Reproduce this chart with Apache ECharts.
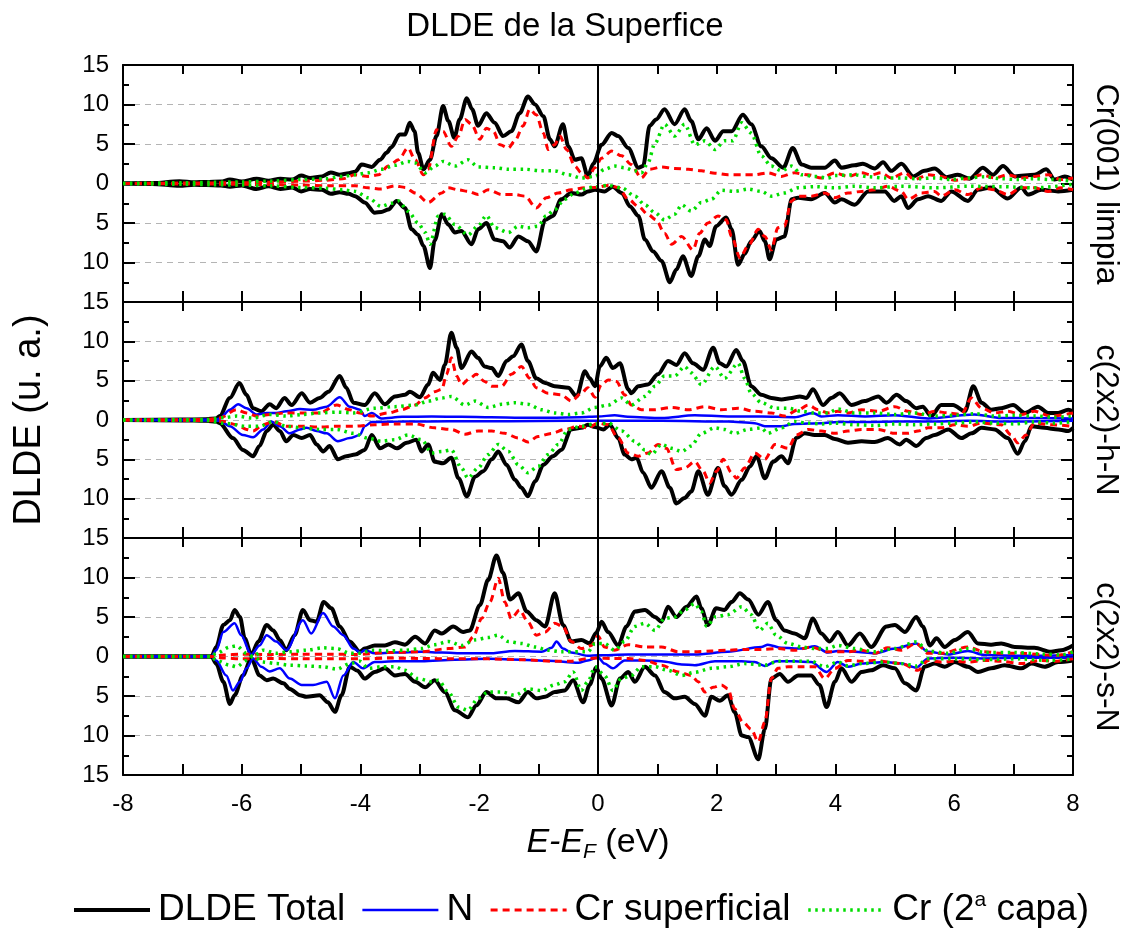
<!DOCTYPE html>
<html><head><meta charset="utf-8">
<script src="https://cdn.jsdelivr.net/npm/echarts@6/dist/echarts.min.js"></script>
<style>html,body{margin:0;padding:0;background:#fff}#c{width:1130px;height:932px}</style>
</head><body><div id="c"></div>
<script>
// ---------- DATA (E-EF in eV, DLDE in u.a.; spin-up positive, spin-down negative) ----------
const seriesNames = ['DLDE Total', 'N', 'Cr superficial', 'Cr (2ª capa)'];
const panelLabels = ['Cr(001) limpia', 'c(2x2)-h-N', 'c(2x2)-s-N'];
const xTicks = [-8, -6, -4, -2, 0, 2, 4, 6, 8];
const yTicks = [15, 10, 5, 0, 5, 10, 15];

// Panel 1: Cr(001) limpia
const p1TotUp = [[-8,0],[-7.5,0.05],[-7.05,0.3],[-6.8,0.15],[-6.6,0.2],[-6.35,0.25],[-6.2,0.5],[-6.0,0.25],[-5.75,0.6],[-5.55,0.35],[-5.35,0.6],[-5.15,0.5],[-5.0,1.0],[-4.85,0.7],[-4.65,0.9],[-4.5,1.4],[-4.35,1.1],[-4.2,1.3],[-4.09,1.5],[-3.98,2.4],[-3.81,2.1],[-3.67,3.0],[-3.56,3.9],[-3.48,4.6],[-3.34,6.2],[-3.25,6.2],[-3.17,7.7],[-3.09,6.6],[-3.03,3.9],[-2.94,1.8],[-2.83,3.0],[-2.72,6.0],[-2.61,9.8],[-2.52,7.9],[-2.42,5.8],[-2.33,8.1],[-2.21,10.8],[-2.12,9.4],[-2.02,7.3],[-1.88,8.9],[-1.74,7.7],[-1.6,6.0],[-1.46,6.6],[-1.32,8.9],[-1.18,11.0],[-1.06,10.0],[-0.92,8.5],[-0.81,5.6],[-0.73,4.7],[-0.59,7.5],[-0.5,4.7],[-0.39,3.0],[-0.28,3.2],[-0.17,0.9],[-0.08,2.5],[0.06,4.9],[0.23,6.4],[0.34,6.0],[0.51,4.5],[0.68,2.0],[0.76,2.2],[0.87,7.3],[0.98,8.1],[1.12,9.4],[1.29,7.5],[1.46,9.4],[1.57,7.9],[1.69,5.6],[1.83,7.0],[1.97,5.4],[2.11,6.6],[2.25,6.6],[2.44,8.7],[2.58,7.5],[2.75,4.7],[2.92,3.2],[3.12,2.0],[3.28,4.5],[3.43,2.4],[3.59,2.0],[3.82,2.0],[3.99,2.9],[4.1,2.0],[4.32,2.3],[4.46,2.5],[4.66,1.9],[4.8,2.7],[4.94,1.6],[5.11,2.5],[5.31,0.9],[5.5,1.6],[5.67,1.9],[5.87,0.8],[6.06,1.1],[6.26,0.6],[6.48,2.0],[6.65,1.1],[6.82,2.2],[7.02,0.9],[7.35,1.1],[7.55,1.8],[7.69,0.5],[7.86,0.9],[8,0.5]];
const p1TotDn = [[-8,0],[-7.5,-0.05],[-7.05,-0.3],[-6.8,-0.15],[-6.6,-0.2],[-6.35,-0.25],[-6.2,-0.4],[-6.0,-0.25],[-5.75,-0.7],[-5.55,-0.35],[-5.35,-0.7],[-5.15,-0.5],[-5.0,-1.0],[-4.85,-0.7],[-4.65,-0.8],[-4.5,-1.3],[-4.35,-1.1],[-4.2,-1.3],[-4.09,-1.6],[-3.93,-2.4],[-3.76,-3.7],[-3.65,-3.6],[-3.53,-3.3],[-3.39,-2.2],[-3.25,-3.1],[-3.14,-5.8],[-3.03,-6.5],[-2.94,-7.9],[-2.83,-10.7],[-2.75,-7.2],[-2.63,-3.9],[-2.52,-5.2],[-2.41,-6.2],[-2.3,-6.0],[-2.13,-7.7],[-2.02,-5.8],[-1.88,-5.0],[-1.74,-7.1],[-1.6,-7.3],[-1.49,-8.1],[-1.34,-6.7],[-1.18,-7.3],[-1.04,-8.6],[-0.89,-4.6],[-0.76,-4.1],[-0.62,-2.0],[-0.45,-1.2],[-0.28,-1.4],[-0.17,-1.0],[-0.05,-0.8],[0.11,-1.0],[0.25,-0.4],[0.4,-1.2],[0.54,-2.9],[0.68,-4.1],[0.79,-7.1],[0.93,-8.6],[1.07,-9.8],[1.21,-12.5],[1.32,-10.9],[1.43,-9.2],[1.57,-11.7],[1.69,-9.2],[1.8,-7.1],[1.88,-7.9],[1.99,-5.4],[2.16,-4.3],[2.25,-5.8],[2.36,-10.3],[2.47,-8.9],[2.58,-7.3],[2.72,-6.0],[2.81,-7.3],[2.89,-9.6],[3.0,-7.1],[3.14,-6.7],[3.26,-2.0],[3.37,-1.8],[3.59,-2.0],[3.82,-1.2],[3.99,-2.4],[4.1,-2.0],[4.32,-2.7],[4.55,-1.0],[4.83,-1.0],[4.99,-2.2],[5.11,-1.6],[5.22,-3.1],[5.39,-2.0],[5.56,-1.6],[5.78,-2.2],[5.95,-1.0],[6.23,-2.2],[6.4,-0.8],[6.62,-0.5],[6.9,-1.9],[7.13,-0.5],[7.24,-1.4],[7.47,-0.8],[7.75,-1.0],[8,-0.8]];
const p1CrUp = [[-8,0],[-7,0.05],[-6,0.1],[-5.5,0.15],[-5,0.3],[-4.6,0.4],[-4.3,0.6],[-4.09,1.1],[-3.87,0.9],[-3.7,1.1],[-3.53,2.2],[-3.36,3.0],[-3.2,4.5],[-3.08,3.0],[-2.94,1.1],[-2.86,1.8],[-2.72,6.8],[-2.61,6.6],[-2.47,4.7],[-2.35,6.0],[-2.24,8.1],[-2.13,7.5],[-1.99,5.6],[-1.88,7.0],[-1.76,6.6],[-1.65,4.9],[-1.51,4.5],[-1.4,5.4],[-1.26,7.3],[-1.15,9.4],[-1.04,8.7],[-0.92,6.4],[-0.84,4.3],[-0.73,4.9],[-0.64,6.0],[-0.53,4.3],[-0.39,2.2],[-0.28,1.35],[-0.17,0.7],[-0.05,2.0],[0.06,3.2],[0.23,4.1],[0.4,3.5],[0.56,2.4],[0.73,0.7],[0.87,1.8],[1.07,2.1],[1.29,1.9],[1.52,1.8],[1.74,1.6],[1.97,1.3],[2.19,1.1],[2.42,1.1],[2.64,1.1],[2.86,1.35],[3.09,0.9],[3.31,1.35],[3.54,1.1],[3.76,0.7],[3.99,1.35],[4.21,0.9],[4.44,1.35],[4.6,1.1],[4.77,1.35],[4.94,0.7],[5.17,1.35],[5.33,0.5],[5.56,1.1],[5.78,0.9],[6.01,0.4],[6.23,0.6],[6.46,1.1],[6.68,0.7],[6.9,1.1],[7.13,0.7],[7.35,0.9],[7.58,1.1],[7.8,0.5],[8,0.7]];
const p1CrDn = [[-8,0],[-7,-0.05],[-6,-0.1],[-5,-0.2],[-4.5,-0.3],[-4.09,-0.3],[-3.87,-0.55],[-3.65,-0.7],[-3.42,-0.3],[-3.25,-0.5],[-3.08,-1.2],[-2.86,-2.4],[-2.63,-1.2],[-2.52,-0.55],[-2.35,-0.8],[-2.19,-1.0],[-2.02,-1.4],[-1.85,-0.8],[-1.62,-1.4],[-1.4,-1.4],[-1.23,-1.6],[-1.04,-3.1],[-0.87,-1.8],[-0.67,-1.2],[-0.45,-0.8],[-0.22,-0.55],[-0.05,-0.5],[0.17,-0.25],[0.34,-0.5],[0.51,-2.0],[0.68,-2.9],[0.84,-3.9],[0.98,-4.6],[1.12,-6.3],[1.24,-7.7],[1.41,-6.7],[1.6,-8.4],[1.71,-6.3],[1.85,-5.0],[2.02,-4.1],[2.16,-4.6],[2.25,-6.7],[2.39,-9.4],[2.53,-7.9],[2.7,-5.8],[2.81,-6.7],[2.92,-8.4],[3.03,-5.6],[3.14,-5.4],[3.26,-2.2],[3.37,-1.6],[3.59,-1.6],[3.82,-1.2],[3.99,-1.8],[4.21,-1.2],[4.44,-1.0],[4.66,-0.8],[4.88,-0.35],[5.11,-1.0],[5.22,-2.0],[5.45,-1.2],[5.67,-1.0],[5.78,-1.6],[6.01,-0.8],[6.23,-1.4],[6.46,-0.55],[6.68,-0.8],[6.9,-1.4],[7.13,-0.55],[7.35,-0.55],[7.58,-1.0],[7.8,-0.55],[8,-0.8]];
const p1Cr2Up = [[-8,0],[-7,0.1],[-6.5,0.15],[-6,0.2],[-5.5,0.3],[-5,0.5],[-4.6,0.6],[-4.3,0.9],[-4.09,1.1],[-3.87,1.35],[-3.65,1.8],[-3.42,2.3],[-3.2,2.8],[-3.08,2.6],[-2.91,1.35],[-2.75,2.2],[-2.61,2.8],[-2.41,2.2],[-2.19,3.0],[-2.02,2.1],[-1.74,2.0],[-1.51,1.8],[-1.23,1.8],[-0.95,1.6],[-0.73,1.6],[-0.5,1.1],[-0.28,0.7],[-0.05,0.9],[0.11,1.8],[0.28,2.2],[0.45,2.0],[0.62,1.6],[0.73,1.35],[0.84,2.6],[0.96,5.1],[1.12,7.5],[1.29,6.0],[1.46,7.5],[1.63,4.9],[1.8,5.4],[1.97,4.3],[2.13,5.4],[2.27,5.4],[2.42,7.7],[2.58,6.4],[2.75,3.5],[2.92,2.2],[3.09,1.6],[3.26,2.2],[3.43,1.1],[3.65,0.9],[3.87,0.7],[3.99,1.0],[4.32,1.1],[4.55,0.85],[4.83,0.7],[5.11,0.7],[5.39,0.6],[5.67,0.7],[5.95,0.5],[6.23,0.7],[6.51,0.85],[6.79,0.6],[7.07,0.5],[7.35,0.6],[7.63,0.5],[8,0.3]];
const p1Cr2Dn = [[-8,0],[-7,-0.1],[-6.5,-0.15],[-6,-0.2],[-5.5,-0.3],[-5,-0.5],[-4.6,-0.6],[-4.3,-0.8],[-4.09,-1.0],[-3.87,-1.8],[-3.65,-2.9],[-3.48,-2.5],[-3.36,-2.2],[-3.2,-3.5],[-3.03,-5.0],[-2.91,-6.2],[-2.83,-7.7],[-2.69,-4.1],[-2.58,-3.9],[-2.41,-5.2],[-2.19,-6.5],[-2.02,-5.4],[-1.88,-4.05],[-1.74,-5.6],[-1.51,-6.2],[-1.34,-5.4],[-1.18,-5.6],[-1.01,-5.4],[-0.87,-4.1],[-0.73,-3.3],[-0.56,-2.0],[-0.39,-1.2],[-0.17,-0.55],[-0.05,-0.4],[0.17,-0.25],[0.4,-0.55],[0.62,-1.6],[0.79,-2.7],[0.96,-3.7],[1.12,-4.6],[1.29,-3.9],[1.41,-2.7],[1.57,-3.5],[1.74,-2.4],[1.91,-2.0],[2.08,-0.85],[2.3,-1.0],[2.53,-0.7],[2.75,-1.0],[2.92,-1.6],[3.14,-1.2],[3.37,-0.55],[3.65,-0.4],[3.99,-0.55],[4.32,-0.35],[4.66,-0.55],[5.11,-0.35],[5.67,-0.55],[6.23,-0.35],[6.79,-0.4],[7.35,-0.55],[8,-0.1]];

// Panel 2: c(2x2)-h-N
const p2TotUp = [[-8,0],[-7,0.05],[-6.6,0.1],[-6.43,0.2],[-6.37,0.5],[-6.2,2.8],[-6.04,4.7],[-5.92,3.2],[-5.81,1.5],[-5.67,1.1],[-5.53,2.0],[-5.42,1.5],[-5.28,2.8],[-5.16,1.9],[-4.99,3.4],[-4.85,2.2],[-4.69,2.8],[-4.54,3.6],[-4.35,5.6],[-4.24,4.1],[-4.12,2.2],[-3.93,1.9],[-3.76,3.4],[-3.59,2.0],[-3.42,3.0],[-3.25,3.2],[-3.17,3.6],[-3.0,2.9],[-2.86,4.5],[-2.78,6.0],[-2.66,5.1],[-2.58,7.0],[-2.47,11.1],[-2.38,9.2],[-2.3,6.6],[-2.13,8.7],[-2.02,7.9],[-1.91,6.8],[-1.79,6.6],[-1.68,5.6],[-1.54,7.5],[-1.43,8.1],[-1.29,9.6],[-1.18,7.5],[-1.04,5.3],[-0.89,4.7],[-0.73,4.3],[-0.5,4.1],[-0.36,3.0],[-0.22,6.2],[-0.14,5.3],[-0.05,4.3],[0.03,6.8],[0.14,7.9],[0.25,6.6],[0.37,7.2],[0.51,3.9],[0.56,3.4],[0.68,4.3],[0.84,4.5],[1.01,5.8],[1.18,7.5],[1.32,7.0],[1.46,8.5],[1.6,7.2],[1.77,6.4],[1.94,9.2],[2.05,7.2],[2.16,6.8],[2.33,8.9],[2.44,7.5],[2.58,4.3],[2.75,3.2],[2.92,2.8],[3.09,2.6],[3.26,2.8],[3.4,3.0],[3.51,2.8],[3.62,3.9],[3.79,1.9],[3.93,2.8],[4.07,3.4],[4.27,1.9],[4.49,2.4],[4.72,3.0],[4.86,2.2],[5.03,3.2],[5.19,2.4],[5.36,1.5],[5.47,1.7],[5.61,0.5],[5.78,1.9],[5.98,1.9],[6.18,1.1],[6.32,4.3],[6.46,2.2],[6.62,1.3],[6.79,1.5],[6.99,1.9],[7.19,0.9],[7.41,1.7],[7.58,0.9],[7.75,0.9],[7.92,1.3],[8,1.1]];
const p2TotDn = [[-8,0],[-7,-0.05],[-6.6,-0.1],[-6.43,-0.2],[-6.37,-0.4],[-6.15,-2.3],[-5.98,-3.8],[-5.81,-4.6],[-5.7,-3.3],[-5.58,-1.4],[-5.47,-0.6],[-5.36,-1.4],[-5.25,-2.7],[-5.13,-1.9],[-4.99,-2.3],[-4.85,-1.9],[-4.74,-3.1],[-4.63,-4.0],[-4.52,-3.3],[-4.38,-5.0],[-4.24,-4.6],[-4.09,-4.4],[-3.93,-3.8],[-3.81,-1.9],[-3.67,-3.6],[-3.53,-3.1],[-3.39,-3.6],[-3.22,-2.9],[-3.06,-2.5],[-2.97,-4.0],[-2.86,-3.1],[-2.75,-5.3],[-2.61,-5.5],[-2.47,-4.8],[-2.35,-7.4],[-2.21,-9.7],[-2.07,-7.2],[-1.93,-6.5],[-1.79,-5.0],[-1.68,-4.0],[-1.54,-5.7],[-1.4,-7.6],[-1.29,-8.6],[-1.18,-9.7],[-1.06,-7.8],[-0.92,-5.7],[-0.76,-4.6],[-0.62,-3.8],[-0.45,-1.2],[-0.28,-1.0],[-0.17,-0.6],[-0.05,-0.9],[0.09,-1.2],[0.2,-0.6],[0.34,-2.3],[0.45,-4.4],[0.56,-5.0],[0.65,-4.8],[0.76,-6.7],[0.9,-8.6],[1.07,-6.5],[1.21,-8.6],[1.32,-10.6],[1.46,-9.9],[1.57,-9.1],[1.69,-6.5],[1.85,-9.5],[2.02,-6.1],[2.13,-8.4],[2.25,-9.5],[2.42,-7.6],[2.56,-5.9],[2.67,-4.6],[2.81,-7.4],[2.95,-5.3],[3.09,-4.6],[3.2,-5.5],[3.34,-2.3],[3.48,-1.7],[3.65,-1.9],[3.82,-1.9],[3.99,-2.4],[4.21,-2.9],[4.44,-2.7],[4.66,-2.8],[4.88,-2.3],[5.08,-3.1],[5.19,-2.5],[5.36,-3.3],[5.53,-2.3],[5.67,-1.9],[5.9,-1.2],[6.12,-2.3],[6.29,-1.7],[6.46,-1.0],[6.68,-1.2],[6.9,-2.3],[7.07,-4.3],[7.19,-2.7],[7.3,-0.8],[7.52,-1.0],[7.75,-1.2],[7.92,-1.4],[8,-1.0]];
const p2NUp = [[-8,0],[-6.6,0.05],[-6.43,0.1],[-6.37,0.2],[-6.2,1.3],[-6.06,2.0],[-5.92,1.5],[-5.75,0.7],[-5.58,0.9],[-5.42,0.9],[-5.25,1.1],[-5.02,1.4],[-4.8,1.3],[-4.57,1.7],[-4.35,2.9],[-4.18,1.7],[-4.01,1.3],[-3.93,0.5],[-3.81,0.9],[-3.65,0.2],[-3.3,0.4],[-2.8,0.45],[-2.3,0.4],[-1.8,0.35],[-1.3,0.3],[-0.8,0.3],[-0.3,0.35],[0.0,0.45],[0.28,0.6],[0.5,0.4],[1.07,0.25],[1.63,0.6],[2.19,0.45],[2.75,0.45],[3.31,0.35],[3.62,0.9],[3.76,0.45],[4.04,0.6],[4.5,0.45],[5.0,0.6],[5.56,0.2],[6.34,0.7],[6.79,0.25],[7.35,0.25],[8,0.2]];
const p2NDn = [[-8,0],[-6.6,-0.05],[-6.37,-0.1],[-6.2,-0.8],[-5.98,-1.9],[-5.81,-2.2],[-5.64,-1.2],[-5.5,-0.2],[-5.36,-0.8],[-5.19,-1.7],[-5.02,-1.2],[-4.91,-1.0],[-4.74,-1.4],[-4.57,-1.7],[-4.38,-2.7],[-4.18,-2.3],[-4.01,-1.9],[-3.93,-0.8],[-3.81,-0.25],[-3.3,-0.2],[-2.5,-0.15],[-1.5,-0.15],[-0.5,-0.1],[0.5,-0.1],[1.07,-0.1],[2.19,-0.2],[2.64,-0.4],[2.81,-0.8],[3.09,-0.8],[3.31,-0.5],[3.76,-0.4],[4.04,-0.25],[4.5,-0.25],[5.1,-0.2],[5.56,-0.2],[6.23,-0.1],[6.9,-0.2],[8,-0.1]];
const p2CrUp = [[-8,0],[-6.6,0.05],[-6.37,0.25],[-6.09,1.3],[-5.92,0.9],[-5.75,0.5],[-5.53,0.7],[-5.25,0.9],[-4.97,0.9],[-4.69,0.9],[-4.4,1.9],[-4.18,1.3],[-4.01,0.9],[-3.81,0.5],[-3.53,0.9],[-3.31,1.3],[-3.08,1.9],[-2.92,2.8],[-2.75,3.6],[-2.63,3.9],[-2.55,5.8],[-2.47,7.9],[-2.38,5.6],[-2.3,4.5],[-2.16,5.3],[-2.05,5.8],[-1.91,4.9],[-1.79,4.3],[-1.62,4.3],[-1.46,5.8],[-1.29,6.8],[-1.15,5.3],[-1.04,4.1],[-0.84,3.4],[-0.62,3.2],[-0.45,2.4],[-0.28,3.4],[-0.17,4.1],[-0.05,2.9],[0.06,4.5],[0.17,5.1],[0.31,4.9],[0.45,3.2],[0.56,1.9],[0.73,1.3],[0.96,1.3],[1.24,1.6],[1.52,1.3],[1.8,1.7],[2.08,1.3],[2.36,1.5],[2.64,1.1],[2.92,0.9],[3.14,0.5],[3.37,1.3],[3.54,1.9],[3.71,1.3],[3.87,0.9],[4.04,1.1],[4.21,0.9],[4.44,1.3],[4.72,1.1],[5.0,1.7],[5.22,1.1],[5.45,0.7],[5.67,1.1],[5.9,0.9],[6.12,0.7],[6.29,2.8],[6.46,1.5],[6.68,0.9],[6.9,1.1],[7.13,0.7],[7.35,1.1],[7.63,0.5],[8,0.9]];
const p2CrDn = [[-8,0],[-6.6,-0.05],[-6.3,-0.2],[-6.09,-0.6],[-5.92,-1.2],[-5.81,-1.4],[-5.64,-0.6],[-5.47,-0.2],[-5.25,-0.8],[-4.97,-0.8],[-4.69,-0.9],[-4.4,-0.8],[-4.12,-0.8],[-3.76,-0.6],[-3.42,-0.5],[-3.08,-0.5],[-2.75,-1.0],[-2.47,-1.2],[-2.24,-1.8],[-2.02,-1.4],[-1.79,-1.4],[-1.57,-1.7],[-1.34,-2.3],[-1.18,-2.8],[-1.01,-2.1],[-0.78,-1.7],[-0.56,-1.2],[-0.33,-0.8],[-0.17,-1.0],[0.0,-0.4],[0.17,-0.6],[0.34,-2.3],[0.51,-4.2],[0.68,-4.6],[0.84,-4.2],[1.01,-3.1],[1.15,-3.6],[1.32,-6.3],[1.46,-6.1],[1.63,-5.3],[1.77,-6.5],[1.88,-8.0],[2.0,-6.5],[2.11,-5.0],[2.25,-6.7],[2.33,-7.4],[2.47,-6.1],[2.64,-4.2],[2.81,-5.0],[2.98,-3.1],[3.2,-3.6],[3.34,-1.9],[3.54,-1.2],[3.76,-1.4],[3.99,-1.7],[4.21,-1.4],[4.44,-1.2],[4.72,-1.2],[5.0,-1.7],[5.22,-1.7],[5.39,-1.4],[5.56,-1.0],[5.78,-1.0],[6.01,-0.6],[6.23,-0.8],[6.46,-0.4],[6.79,-0.6],[6.96,-1.9],[7.07,-2.9],[7.21,-1.9],[7.35,-0.4],[7.63,-0.6],[8,-0.8]];
const p2Cr2Up = [[-8,0],[-6.6,0.05],[-6.3,0.3],[-6.09,0.5],[-5.81,0.25],[-5.53,0.7],[-5.25,0.5],[-4.97,0.7],[-4.69,0.9],[-4.4,1.0],[-4.12,0.9],[-3.76,1.5],[-3.42,1.7],[-3.08,1.9],[-2.86,2.4],[-2.63,2.8],[-2.47,3.0],[-2.24,1.9],[-2.07,2.4],[-1.85,1.6],[-1.62,2.0],[-1.4,2.2],[-1.18,2.0],[-0.95,1.3],[-0.73,0.9],[-0.5,0.7],[-0.28,0.9],[-0.05,1.6],[0.17,1.9],[0.4,2.8],[0.56,1.9],[0.79,3.0],[0.96,4.3],[1.12,5.6],[1.29,5.6],[1.46,6.8],[1.57,6.0],[1.74,4.5],[1.97,6.8],[2.13,5.3],[2.36,7.2],[2.47,5.3],[2.58,3.4],[2.75,2.2],[2.98,1.5],[3.2,1.5],[3.43,1.1],[3.65,0.9],[3.87,0.9],[4.04,1.4],[4.32,0.9],[4.66,0.9],[5.0,0.7],[5.33,0.9],[5.67,0.5],[6.01,0.6],[6.34,0.8],[6.68,0.5],[7.02,0.6],[7.35,0.5],[7.69,0.35],[8,0.5]];
const p2Cr2Dn = [[-8,0],[-6.6,-0.05],[-6.3,-0.4],[-5.92,-0.8],[-5.7,-0.8],[-5.47,-0.2],[-5.25,-0.8],[-4.97,-1.0],[-4.69,-1.2],[-4.4,-1.2],[-4.12,-1.7],[-3.87,-2.3],[-3.65,-2.7],[-3.42,-2.5],[-3.2,-1.9],[-2.97,-2.5],[-2.8,-4.2],[-2.63,-4.0],[-2.47,-3.8],[-2.3,-6.1],[-2.19,-7.4],[-2.02,-6.1],[-1.85,-4.4],[-1.68,-3.1],[-1.51,-4.0],[-1.34,-5.7],[-1.18,-6.7],[-1.01,-5.9],[-0.84,-4.4],[-0.67,-3.1],[-0.5,-1.2],[-0.28,-0.8],[-0.05,-0.5],[0.17,-0.4],[0.4,-1.4],[0.62,-2.7],[0.79,-3.8],[0.9,-4.4],[1.07,-3.1],[1.24,-3.6],[1.41,-4.0],[1.57,-3.3],[1.74,-1.7],[1.97,-1.0],[2.13,-1.2],[2.3,-1.7],[2.53,-1.2],[2.75,-1.0],[2.86,-1.7],[3.09,-1.0],[3.31,-0.2],[3.54,-0.4],[3.76,-0.5],[3.99,-0.4],[4.32,-0.6],[4.66,-0.7],[5.0,-0.5],[5.33,-0.6],[5.67,-0.5],[6.01,-0.4],[6.34,-0.25],[6.68,-0.4],[7.02,-0.5],[7.35,-0.25],[7.69,-0.4],[8,-0.2]];

// Panel 3: c(2x2)-s-N
const p3TotUp = [[-8,0],[-6.51,0],[-6.43,1.2],[-6.31,4.0],[-6.2,4.6],[-6.12,5.9],[-6.03,5.0],[-5.95,2.3],[-5.84,0.2],[-5.72,1.9],[-5.58,4.0],[-5.47,3.3],[-5.36,2.1],[-5.25,0.8],[-5.11,2.7],[-4.97,5.9],[-4.85,4.6],[-4.74,4.4],[-4.62,6.9],[-4.49,6.1],[-4.35,3.8],[-4.18,1.9],[-4.01,0.6],[-3.93,1.0],[-3.76,1.4],[-3.59,1.4],[-3.42,1.8],[-3.25,1.5],[-3.08,2.5],[-2.91,1.65],[-2.75,3.3],[-2.63,2.9],[-2.44,3.8],[-2.27,3.1],[-2.16,3.3],[-1.99,6.5],[-1.85,9.7],[-1.71,12.8],[-1.6,10.6],[-1.48,7.2],[-1.34,8.0],[-1.2,5.7],[-1.04,4.6],[-0.89,3.8],[-0.73,8.0],[-0.59,4.0],[-0.45,1.9],[-0.28,2.1],[-0.14,1.65],[-0.03,3.0],[0.06,4.4],[0.17,3.1],[0.34,1.4],[0.48,3.8],[0.62,5.7],[0.79,5.9],[0.96,5.0],[1.07,4.4],[1.18,6.3],[1.32,5.0],[1.49,6.3],[1.66,7.6],[1.74,6.1],[1.85,4.0],[1.99,6.1],[2.13,5.9],[2.25,6.9],[2.39,8.0],[2.53,7.2],[2.7,5.3],[2.86,6.9],[3.0,4.6],[3.14,3.3],[3.31,2.9],[3.48,2.3],[3.62,4.8],[3.76,2.9],[3.9,1.9],[4.04,3.1],[4.21,1.4],[4.41,2.9],[4.6,1.2],[4.86,3.8],[5.0,4.0],[5.17,3.1],[5.36,5.0],[5.47,3.8],[5.59,1.4],[5.7,2.3],[5.84,1.2],[6.01,2.1],[6.23,3.1],[6.4,1.65],[6.62,1.5],[6.79,1.65],[7.02,1.2],[7.35,1.1],[7.63,0.6],[7.8,0.8],[8,1.4]];
const p3TotDn = [[-8,0],[-6.51,0],[-6.43,-0.9],[-6.31,-3.2],[-6.2,-6.0],[-6.12,-4.9],[-5.98,-2.4],[-5.84,-0.25],[-5.7,-2.4],[-5.58,-3.0],[-5.47,-2.8],[-5.3,-3.4],[-5.19,-4.1],[-5.02,-4.9],[-4.91,-5.1],[-4.69,-4.9],[-4.55,-5.8],[-4.43,-7.0],[-4.32,-4.9],[-4.18,-1.3],[-4.05,-1.8],[-3.93,-2.8],[-3.76,-1.95],[-3.59,-1.5],[-3.42,-2.4],[-3.25,-2.2],[-3.08,-3.2],[-2.91,-3.9],[-2.75,-3.0],[-2.58,-4.5],[-2.41,-6.8],[-2.19,-7.7],[-2.05,-6.2],[-1.88,-4.5],[-1.71,-5.3],[-1.54,-5.3],[-1.34,-5.8],[-1.18,-4.5],[-1.04,-5.3],[-0.89,-5.1],[-0.73,-4.5],[-0.56,-4.3],[-0.42,-3.0],[-0.25,-5.8],[-0.14,-3.6],[-0.03,-1.4],[0.06,-2.8],[0.23,-6.2],[0.37,-2.8],[0.51,-1.95],[0.62,-3.2],[0.79,-1.3],[0.96,-2.4],[1.12,-4.5],[1.29,-5.3],[1.46,-5.1],[1.63,-6.0],[1.8,-7.5],[1.91,-5.1],[2.05,-5.6],[2.19,-4.9],[2.3,-7.0],[2.42,-10.0],[2.53,-10.2],[2.7,-13.0],[2.81,-9.2],[2.92,-2.8],[3.06,-2.2],[3.2,-3.2],[3.37,-2.4],[3.59,-2.4],[3.73,-3.6],[3.85,-6.4],[3.99,-3.2],[4.1,-1.5],[4.27,-3.2],[4.44,-1.95],[4.6,-1.75],[4.8,-1.1],[5.0,-1.5],[5.17,-3.4],[5.36,-4.3],[5.5,-1.3],[5.67,-0.9],[5.84,-1.3],[6.01,-0.7],[6.23,-1.3],[6.4,-1.95],[6.62,-1.5],[6.85,-1.1],[7.13,-1.5],[7.3,-0.9],[7.52,-1.3],[7.75,-0.7],[8,-0.5]];
const p3NUp = [[-8,0],[-6.51,0],[-6.43,0.8],[-6.31,3.1],[-6.12,4.2],[-6.01,2.7],[-5.84,0.2],[-5.7,1.4],[-5.58,2.7],[-5.42,1.9],[-5.25,0.8],[-4.97,4.6],[-4.83,2.9],[-4.63,5.5],[-4.46,3.8],[-4.29,2.7],[-4.12,1.0],[-4.0,0.5],[-3.93,0.8],[-3.76,0.4],[-3.42,0.5],[-2.97,0.6],[-2.63,0.5],[-2.24,0.4],[-1.85,0.4],[-1.4,0.7],[-0.95,0.6],[-0.78,1.1],[-0.7,1.9],[-0.59,1.0],[-0.45,0.5],[-0.17,0.1],[0.0,0.15],[0.51,0.25],[1.07,0.25],[1.63,0.25],[2.19,0.6],[2.75,1.2],[2.86,1.5],[3.09,1.1],[3.43,1.0],[3.65,1.3],[3.87,0.5],[4.04,0.7],[4.32,0.6],[4.66,0.4],[5.0,1.0],[5.36,1.65],[5.56,0.6],[5.9,0.25],[6.23,0.7],[6.51,0.2],[7.0,0.1],[7.5,0.1],[8,0.2]];
const p3NDn = [[-8,0],[-6.51,0],[-6.43,-0.5],[-6.26,-2.4],[-6.15,-4.3],[-6.03,-3.2],[-5.92,-1.5],[-5.81,-0.25],[-5.67,-1.3],[-5.53,-1.9],[-5.36,-1.5],[-5.19,-2.8],[-4.99,-3.6],[-4.8,-3.6],[-4.57,-3.2],[-4.43,-5.3],[-4.29,-2.4],[-4.12,-0.7],[-3.96,-1.5],[-3.76,-0.7],[-3.42,-0.6],[-2.97,-0.6],[-2.41,-0.4],[-1.85,-0.3],[-1.29,-0.4],[-0.84,-0.55],[-0.33,-0.8],[-0.17,-0.5],[0.0,-0.1],[0.11,-0.9],[0.25,-1.5],[0.45,-0.5],[0.79,-0.5],[1.07,-0.6],[1.41,-1.0],[1.63,-1.1],[1.97,-0.6],[2.42,-0.6],[2.64,-0.7],[2.81,-1.2],[3.0,-0.6],[3.31,-0.6],[3.59,-0.7],[3.85,-1.95],[4.04,-0.7],[4.21,-1.3],[4.44,-0.9],[4.83,-0.7],[5.11,-0.9],[5.36,-1.4],[5.56,-0.25],[6.0,-0.15],[6.5,-0.25],[7.1,-0.15],[8,-0.15]];
const p3CrUp = [[-8,0],[-6.51,0],[-6.3,0.2],[-6.0,0.3],[-5.5,0.25],[-5.0,0.3],[-4.5,0.3],[-4.09,0.25],[-3.53,0.5],[-2.97,0.6],[-2.52,1.0],[-2.24,1.2],[-2.1,2.5],[-1.96,4.8],[-1.82,6.9],[-1.68,9.9],[-1.57,6.9],[-1.46,4.8],[-1.32,5.9],[-1.18,4.4],[-1.04,2.7],[-0.89,3.1],[-0.73,4.2],[-0.59,3.8],[-0.45,1.9],[-0.28,1.0],[-0.11,1.4],[0.0,2.6],[0.11,1.2],[0.28,0.8],[0.51,1.5],[0.79,1.2],[1.07,1.2],[1.35,0.6],[1.63,0.6],[1.91,0.7],[2.19,0.8],[2.47,0.9],[2.75,0.9],[3.03,1.0],[3.31,0.8],[3.59,1.2],[3.87,0.6],[4.2,0.6],[4.44,0.8],[4.66,0.4],[4.88,1.1],[5.11,0.8],[5.36,1.65],[5.56,0.4],[5.78,0.4],[6.23,1.2],[6.51,0.6],[6.79,0.4],[7.13,0.4],[7.46,0.25],[7.69,0.1],[8,0.6]];
const p3CrDn = [[-8,0],[-6.51,0],[-6.3,-0.2],[-6.0,-0.3],[-5.5,-0.25],[-5.0,-0.3],[-4.5,-0.3],[-3.93,-0.3],[-3.53,-0.2],[-2.97,-0.25],[-2.41,-0.3],[-1.85,-0.3],[-1.29,-0.4],[-0.73,-0.6],[-0.45,-0.6],[-0.17,-0.25],[0.0,-0.2],[0.23,-0.25],[0.51,-0.25],[0.79,-0.5],[1.07,-1.1],[1.35,-1.95],[1.57,-2.4],[1.69,-3.2],[1.8,-4.5],[1.94,-3.9],[2.08,-3.6],[2.19,-4.1],[2.3,-6.6],[2.44,-8.3],[2.58,-9.2],[2.7,-10.8],[2.81,-8.3],[2.92,-2.8],[3.03,-1.5],[3.2,-1.3],[3.43,-1.3],[3.65,-1.3],[3.82,-2.8],[3.99,-1.5],[4.21,-0.5],[4.44,-0.6],[4.66,-0.5],[5.11,-0.9],[5.39,-1.75],[5.56,-0.5],[5.78,-0.7],[6.01,-0.6],[6.23,-0.7],[6.51,-0.5],[6.79,-0.6],[7.13,-0.9],[7.46,-0.5],[7.69,-0.6],[8,-0.3]];
const p3Cr2Up = [[-8,0],[-6.51,0],[-6.43,0.4],[-6.2,1.2],[-6.09,1.35],[-5.92,0.4],[-5.81,0.0],[-5.64,0.8],[-5.42,0.4],[-5.19,0.6],[-4.91,0.8],[-4.63,1.1],[-4.4,1.0],[-4.18,0.4],[-4.01,0.4],[-3.81,0.8],[-3.53,0.7],[-3.25,0.8],[-2.97,1.0],[-2.75,1.5],[-2.52,1.9],[-2.3,1.4],[-2.07,2.1],[-1.85,2.4],[-1.68,2.7],[-1.51,1.9],[-1.29,1.65],[-1.06,1.2],[-0.84,0.8],[-0.62,0.6],[-0.17,0.6],[-0.05,1.65],[0.11,1.65],[0.28,0.8],[0.45,1.9],[0.62,3.8],[0.79,4.2],[0.96,3.3],[1.12,4.8],[1.29,5.0],[1.46,5.9],[1.63,6.7],[1.74,5.7],[1.83,3.8],[1.97,5.0],[2.19,5.3],[2.42,6.3],[2.58,5.3],[2.72,3.3],[2.86,4.2],[3.0,2.7],[3.2,1.65],[3.43,1.2],[3.65,1.0],[3.87,1.0],[4.04,1.4],[4.32,1.0],[4.66,0.6],[5.0,1.0],[5.36,1.85],[5.56,0.7],[5.9,0.4],[6.23,1.0],[6.51,0.5],[7.0,0.5],[7.5,0.3],[7.8,0.2],[8,0.6]];
const p3Cr2Dn = [[-8,0],[-6.51,0],[-6.43,-0.5],[-6.2,-1.1],[-6.09,-1.3],[-5.92,-0.5],[-5.81,0.0],[-5.64,-0.7],[-5.42,-0.9],[-5.19,-1.1],[-4.91,-1.2],[-4.63,-1.3],[-4.4,-1.6],[-4.18,-0.9],[-4.01,-0.6],[-3.87,-1.5],[-3.65,-1.3],[-3.42,-1.3],[-3.25,-1.75],[-3.03,-2.8],[-2.8,-3.2],[-2.69,-3.0],[-2.52,-4.5],[-2.35,-6.4],[-2.19,-6.8],[-2.02,-5.3],[-1.85,-4.5],[-1.62,-4.5],[-1.4,-4.9],[-1.18,-4.1],[-0.95,-4.3],[-0.73,-3.6],[-0.56,-3.2],[-0.42,-1.95],[-0.28,-4.3],[-0.17,-3.2],[-0.05,-1.3],[0.11,-2.4],[0.25,-4.3],[0.39,-2.8],[0.56,-2.4],[0.73,-1.3],[0.96,-1.3],[1.18,-1.75],[1.41,-2.4],[1.63,-2.0],[1.91,-1.5],[2.19,-1.3],[2.47,-0.9],[2.81,-1.1],[3.03,-0.6],[3.31,-0.6],[3.59,-0.6],[3.82,-1.3],[4.04,-0.7],[4.21,-1.2],[4.44,-0.9],[4.83,-0.7],[5.11,-0.9],[5.36,-1.2],[5.56,-0.3],[6.0,-0.3],[6.5,-0.4],[7.1,-0.3],[7.6,-0.5],[8,-0.3]];

// ---------- CHART ----------
const FONT = '"Liberation Sans", Arial, sans-serif';
const panels = [
  {tot:[p1TotUp,p1TotDn], n:null, cr:[p1CrUp,p1CrDn], cr2:[p1Cr2Up,p1Cr2Dn]},
  {tot:[p2TotUp,p2TotDn], n:[p2NUp,p2NDn], cr:[p2CrUp,p2CrDn], cr2:[p2Cr2Up,p2Cr2Dn]},
  {tot:[p3TotUp,p3TotDn], n:[p3NUp,p3NDn], cr:[p3CrUp,p3CrDn], cr2:[p3Cr2Up,p3Cr2Dn]}
];
const styles = {
  tot: {name: seriesNames[0], color:'#000000', width:4, type:'solid'},
  n:   {name: seriesNames[1], color:'#0000ff', width:2.5, type:'solid'},
  cr:  {name: seriesNames[2], color:'#ff0000', width:3, type:[7,5]},
  cr2: {name: seriesNames[3], color:'#00dd00', width:3.5, type:[2.5,4.5]}
};
const grids = [
  {left:123, right:57, top:65, height:237},
  {left:123, right:57, top:302, height:236},
  {left:123, right:57, top:538, height:237}
];
const xAxes = [], yAxes = [], series = [];
grids.forEach((g, i) => {
  const last = i === grids.length - 1;
  const axLine = {show:true, onZero:false, lineStyle:{color:'#000', width:2}};
  xAxes.push({type:'value', gridIndex:i, min:-8, max:8, interval:1, position:'bottom',
    axisLine:axLine, axisTick:{show:true, inside:true, length:11, lineStyle:{color:'#000', width:2}},
    axisLabel:{show:last, color:'#000', fontSize:24, fontFamily:FONT, margin:17,
      formatter:v => (xTicks.indexOf(v) >= 0 ? String(v) : '')},
    splitLine:{show:false}});
  xAxes.push({type:'value', gridIndex:i, min:-8, max:8, interval:1, position:'top',
    axisLine:axLine, axisTick:{show:true, inside:true, length:9, lineStyle:{color:'#000', width:2}},
    axisLabel:{show:false}, splitLine:{show:false}});
  yAxes.push({type:'value', gridIndex:i, min:-15, max:15, interval:5, position:'left',
    axisLine:axLine, axisTick:{show:true, inside:true, length:12, lineStyle:{color:'#000', width:2}},
    minorTick:{show:true, splitNumber:2, length:6, lineStyle:{color:'#000', width:2}},
    axisLabel:{color:'#000', fontSize:24, fontFamily:FONT, margin:14, showMaxLabel: i === 0,
      formatter:v => String(yTicks[(15 - v) / 5])},
    splitLine:{show:true, lineStyle:{color:'#b4b4b4', width:1, type:[6,5]}}});
  yAxes.push({type:'value', gridIndex:i, min:-15, max:15, interval:5, position:'right',
    axisLine:axLine, axisTick:{show:true, inside:true, length:12, lineStyle:{color:'#000', width:2}},
    minorTick:{show:true, splitNumber:2, length:6, lineStyle:{color:'#000', width:2}},
    axisLabel:{show:false}, splitLine:{show:false}});
  const p = panels[i];
  let first = true;
  ['tot','n','cr','cr2'].forEach(k => {
    if (!p[k]) return;
    const st = styles[k];
    p[k].forEach(d => {
      const s = {type:'line', name:st.name, xAxisIndex:2*i, yAxisIndex:2*i, data:d,
        showSymbol:false, symbol:'none', smooth:0.3, smoothMonotone:'x', silent:true,
        lineStyle:{color:st.color, width:st.width, type:st.type}, itemStyle:{color:st.color},
        clip:true};
      if (first) {
        s.markLine = {silent:true, symbol:'none', label:{show:false},
          lineStyle:{color:'#000', width:2, type:'solid'}, data:[{xAxis:0}], animation:false};
        first = false;
      }
      series.push(s);
    });
  });
});

const chart = echarts.init(document.getElementById('c'), null, {renderer:'canvas'});
chart.setOption({
  animation:false,
  backgroundColor:'#fff',
  grid:grids,
  xAxis:xAxes,
  yAxis:yAxes,
  series:series,
  legend:{
    data:seriesNames, top:890, left:72, width:1058, padding:0,
    itemWidth:76, itemHeight:4, itemGap:16, selectedMode:false,
    itemStyle:{opacity:0},
    lineStyle:{width:'inherit'},
    textStyle:{color:'#000', fontSize:37, fontFamily:FONT, padding:[0,0,0,3],
      rich:{sup:{fontSize:21, fontFamily:FONT, color:'#000', verticalAlign:'top', lineHeight:40}}},
    formatter:n => n === seriesNames[3] ? 'Cr (2{sup|a} capa)' : n
  },
  graphic:[
    {type:'text', left:'center', top:10,
      style:{text:'DLDE de la Superfice', font:'33px ' + FONT, fill:'#000'}},
    {type:'text', x:30, y:420, rotation:Math.PI/2, originX:0, originY:0,
      style:{text:'DLDE (u. a.)', font:'38px ' + FONT, fill:'#000', align:'center', verticalAlign:'middle'}},
    {type:'text', x:598, y:843,
      style:{text:'{i|E-E}{s|F}{n| (eV)}', align:'center', verticalAlign:'middle',
        rich:{i:{font:'italic 34px ' + FONT, fill:'#000', lineHeight:40, verticalAlign:'middle'},
              s:{font:'italic 21px ' + FONT, fill:'#000', verticalAlign:'bottom', lineHeight:40, padding:[14,0,0,0]},
              n:{font:'34px ' + FONT, fill:'#000', lineHeight:40, verticalAlign:'middle'}}}},
  ].concat(panelLabels.map((t, i) => ({type:'text', x:1106, y:[184, 420, 657][i], rotation:-Math.PI/2,
      style:{text:t, font:'32px ' + FONT, fill:'#000', align:'center', verticalAlign:'middle'}})))
});
</script></body></html>
